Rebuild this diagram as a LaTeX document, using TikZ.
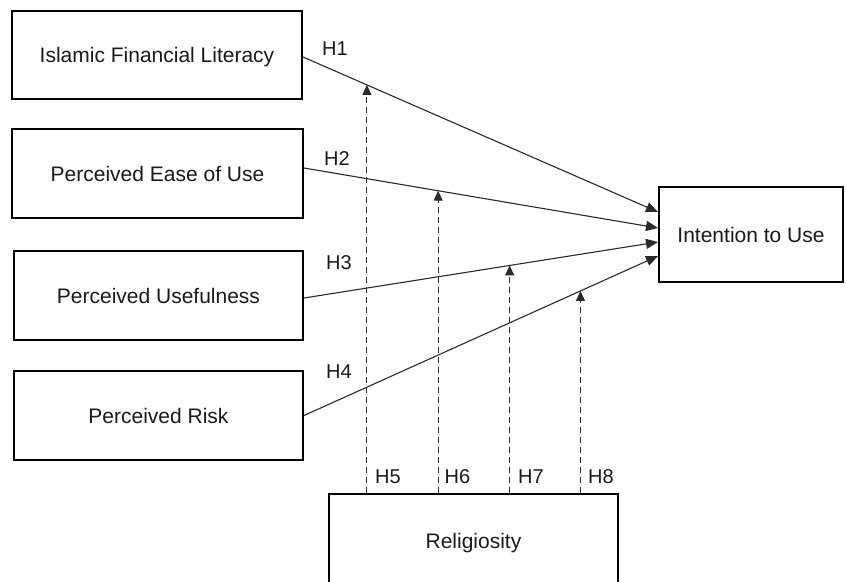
\documentclass[tikz,border=0pt]{standalone}
\usepackage{fontspec}
\setmainfont{Liberation Sans}
\usetikzlibrary{arrows.meta,calc}
\definecolor{ink}{HTML}{1A1A1A}
\definecolor{linec}{HTML}{2A2A2A}
\tikzset{
  box/.style={draw=black, line width=2pt, rectangle, inner sep=0pt,
    text height=15pt, text depth=0pt, text=ink,
    font=\fontsize{21}{25}\selectfont},
  hyp/.style={inner sep=0pt, text=ink, font=\fontsize{20}{24}\selectfont},
  link/.style={draw=linec, line width=1.1pt, -{Triangle[length=12pt,width=10pt]}},
  modlink/.style={draw=linec, line width=1.1pt, dash pattern=on 6pt off 4pt,
    -{Triangle[length=10pt,width=9pt]}}
}
\begin{document}
\begin{tikzpicture}[x=1pt,y=-1pt]
\clip (0,0) rectangle (846,581);
\useasboundingbox (0,0) rectangle (846,581);
\fill[white] (0,0) rectangle (846,581);

\node[box, minimum width=290pt, minimum height=88pt] (ifl) at (157,55) {Islamic Financial Literacy};
\node[box, minimum width=291pt, minimum height=89pt] (peou) at (157.5,173.5) {Perceived Ease of Use};
\node[box, minimum width=289pt, minimum height=89pt] (pu) at (158.5,295.5) {Perceived Usefulness};
\node[box, minimum width=289pt, minimum height=89pt] (pr) at (158.5,415.5) {Perceived Risk};
\node[box, minimum width=184pt, minimum height=95pt] (itu) at (751,234.5) {Intention to Use};
\node[box, minimum width=289pt, minimum height=93pt] (rel) at (473.5,540.5) {Religiosity};

\draw[link] ([yshift=-2pt]ifl.east) -- ([yshift=22.5pt]itu.west)
  coordinate[pos=0.18] (m1);
\draw[link] ([yshift=5.5pt]peou.east) -- ([yshift=6.5pt]itu.west)
  coordinate[pos=0.379] (m2);
\draw[link] ([yshift=-2.5pt]pu.east) -- ([yshift=-7.5pt]itu.west)
  coordinate[pos=0.581] (m3);
\draw[link] (pr.east) -- ([yshift=-21.5pt]itu.west)
  coordinate[pos=0.781] (m4);

\draw[modlink] (m1 |- rel.north) -- (m1);
\draw[modlink] (m2 |- rel.north) -- (m2);
\draw[modlink] (m3 |- rel.north) -- (m3);
\draw[modlink] (m4 |- rel.north) -- (m4);

\node[hyp] (h1) at (335,48.5) {H1};
\node[hyp] (h2) at (337,159) {H2};
\node[hyp] (h3) at (339,263) {H3};
\node[hyp] (h4) at (339,372) {H4};
\node[hyp] (h5) at (388,477) {H5};
\node[hyp] (h6) at (457.5,477) {H6};
\node[hyp] (h7) at (531,477) {H7};
\node[hyp] (h8) at (601,477) {H8};
\end{tikzpicture}
\end{document}
